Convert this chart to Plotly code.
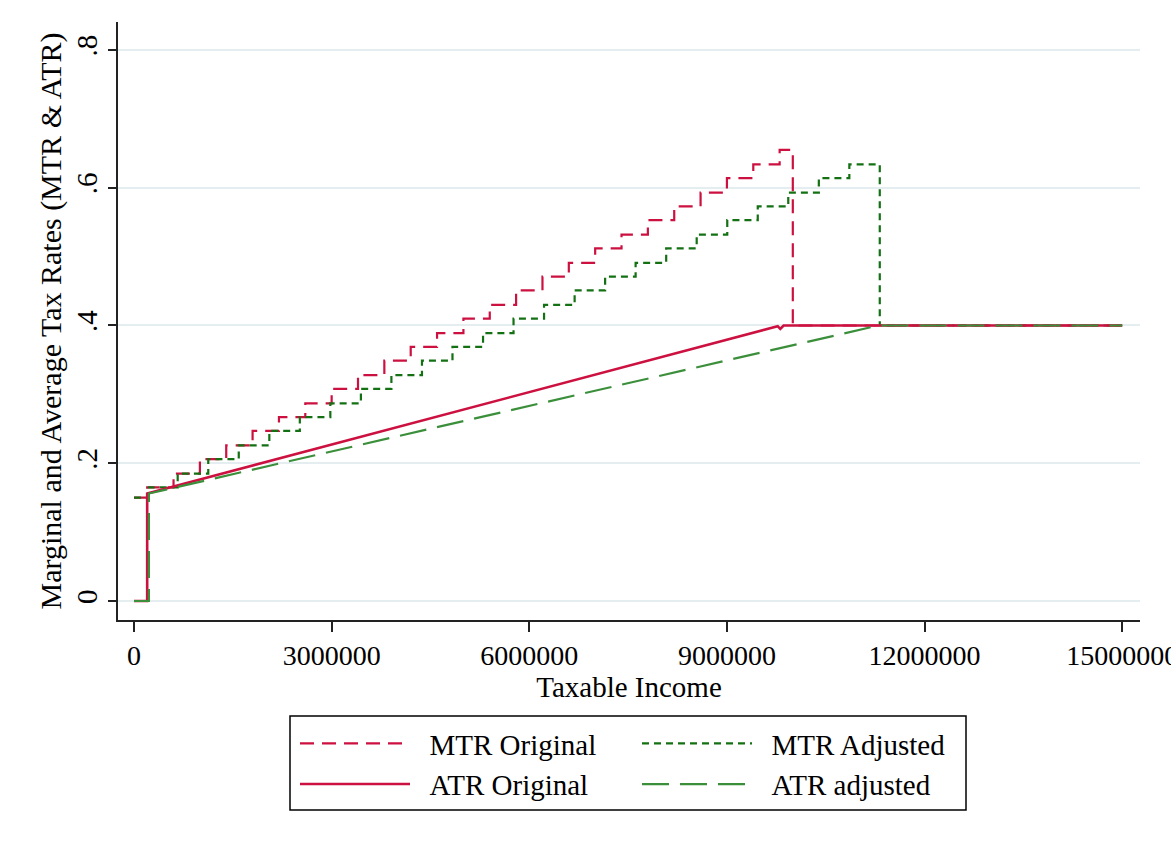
import plotly.graph_objects as go

# ---- data -------------------------------------------------------------
# Original schedule: bracket lower bounds (taxable income) and marginal rates
mtr_orig_income = [0, 200000, 600000, 1000000, 1400000, 1800000, 2200000, 2600000,
                   3000000, 3400000, 3800000, 4200000, 4600000, 5000000, 5400000,
                   5800000, 6200000, 6600000, 7000000, 7400000, 7800000, 8200000,
                   8600000, 9000000, 9400000, 9800000, 10000000, 15000000]
mtr_orig_rate = [0.15, 0.165, 0.185, 0.206, 0.226, 0.247, 0.267, 0.287, 0.308,
                 0.328, 0.349, 0.369, 0.389, 0.410, 0.430, 0.451, 0.471, 0.491,
                 0.512, 0.532, 0.553, 0.573, 0.593, 0.614, 0.634, 0.655, 0.40, 0.40]

# Adjusted schedule: wider brackets, same rate steps
mtr_adj_income = [0, 226000, 663000, 1127000, 1590000, 2054000, 2517000, 2980000,
                  3444000, 3907000, 4371000, 4834000, 5298000, 5761000, 6224000,
                  6688000, 7151000, 7614000, 8078000, 8541000, 9005000, 9468000,
                  9931000, 10395000, 10858000, 11320000, 15000000]
mtr_adj_rate = [0.15, 0.165, 0.185, 0.206, 0.226, 0.247, 0.267, 0.287, 0.308,
                0.328, 0.349, 0.369, 0.389, 0.410, 0.430, 0.451, 0.471, 0.491,
                0.512, 0.532, 0.553, 0.573, 0.593, 0.614, 0.634, 0.40, 0.40]

# Average tax rates
atr_orig_income = [0, 200000, 200000, 9770000, 9810000, 9860000, 15000000]
atr_orig_rate = [0.0, 0.0, 0.156, 0.399, 0.395, 0.400, 0.400]

atr_adj_income = [0, 226000, 226000, 11300000, 15000000]
atr_adj_rate = [0.0, 0.0, 0.156, 0.400, 0.400]

x_ticks = [0, 3000000, 6000000, 9000000, 12000000, 15000000]
x_tick_text = ["0", "3000000", "6000000", "9000000", "12000000", "15000000"]
y_ticks = [0, 0.2, 0.4, 0.6, 0.8]
y_tick_text = ["0", ".2", ".4", ".6", ".8"]

# ---- styling ----------------------------------------------------------
RED = "#cc1140"
DKGREEN = "#137013"
GREEN = "#3b8f3b"
FONT = "Liberation Serif"
GAP = "\u2002"  # extra space between legend key and its label

fig = go.Figure()

fig.add_trace(go.Scatter(
    x=mtr_orig_income, y=mtr_orig_rate, mode="lines", line_shape="hv",
    name=GAP + "MTR Original", legend="legend", legendgroup="a",
    line=dict(color=RED, width=2.2, dash="14px,8px")))
fig.add_trace(go.Scatter(
    x=mtr_adj_income, y=mtr_adj_rate, mode="lines", line_shape="hv",
    name=GAP + "MTR Adjusted", legend="legend2", legendgroup="b",
    line=dict(color=DKGREEN, width=2.2, dash="7px,5px")))
fig.add_trace(go.Scatter(
    x=atr_orig_income, y=atr_orig_rate, mode="lines",
    name=GAP + "ATR Original", legend="legend", legendgroup="c",
    line=dict(color=RED, width=2.6)))
fig.add_trace(go.Scatter(
    x=atr_adj_income, y=atr_adj_rate, mode="lines",
    name=GAP + "ATR adjusted", legend="legend2", legendgroup="d",
    line=dict(color=GREEN, width=2.2, dash="27px,11px")))

legend_common = dict(
    font=dict(family=FONT, size=29, color="black"),
    bgcolor="rgba(0,0,0,0)", borderwidth=0,
    itemwidth=110, traceorder="grouped", tracegroupgap=0,
    orientation="v", yanchor="top", xanchor="left",
)

fig.update_layout(
    width=1171, height=853,
    margin=dict(l=118, r=31, t=22, b=233, autoexpand=False),
    paper_bgcolor="white", plot_bgcolor="white",
    font=dict(family=FONT, size=29, color="black"),
    showlegend=True,
    legend=dict(x=(295 - 118) / 1022, y=(620 - 718) / 598, **legend_common),
    legend2=dict(x=(637 - 118) / 1022, y=(620 - 718) / 598, **legend_common),
    xaxis=dict(
        range=[-243000, 15270000], tickvals=x_ticks, ticktext=x_tick_text,
        showgrid=False, zeroline=False, automargin=False,
        showline=True, linecolor="#222", linewidth=1.5,
        ticks="outside", ticklen=10, tickwidth=1.5, tickcolor="#222",
        ticklabeloverflow="allow",
        tickfont=dict(family=FONT, size=28, color="black"),
        title=dict(text="Taxable Income", standoff=0,
                   font=dict(family=FONT, size=29, color="black")),
    ),
    yaxis=dict(
        range=[-0.0276, 0.8406], tickvals=y_ticks, ticktext=y_tick_text,
        tickangle=-90, automargin=False,
        showgrid=True, gridcolor="#e4eef0", gridwidth=1.5, zeroline=False,
        showline=True, linecolor="#222", linewidth=1.5,
        ticks="outside", ticklen=8, tickwidth=1.5, tickcolor="#222",
        tickfont=dict(family=FONT, size=29, color="black"),
        title=dict(text="Marginal and Average Tax Rates (MTR & ATR)", standoff=0,
                   font=dict(family=FONT, size=30, color="black")),
    ),
    shapes=[dict(type="rect", xref="paper", yref="paper",
                 x0=(290 - 118) / 1022, x1=(966 - 118) / 1022,
                 y0=(620 - 810) / 598, y1=(620 - 716) / 598,
                 line=dict(color="black", width=1.5), fillcolor="rgba(0,0,0,0)",
                 layer="below")],
)

fig.write_html("out.html")
